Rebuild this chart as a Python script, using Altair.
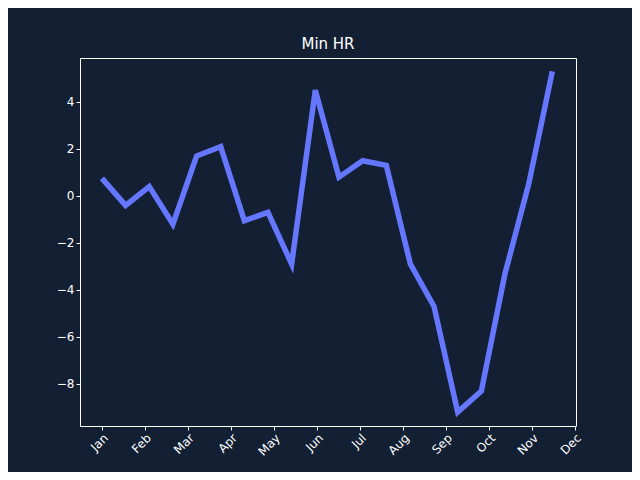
import altair as alt
import pandas as pd

months = ["Jan","Feb","Mar","Apr","May","Jun","Jul","Aug","Sep","Oct","Nov","Dec"]
xpos = [0.0, 0.55, 1.1, 1.65, 2.2, 2.76, 3.31, 3.86, 4.41, 4.96, 5.51, 6.06, 6.61, 7.17, 7.72, 8.27, 8.82, 9.37, 9.92, 10.47]
vals = [0.75, -0.4, 0.4, -1.2, 1.7, 2.1, -1.05, -0.7, -2.9, 4.5, 0.8, 1.5, 1.3, -2.9, -4.7, -9.2, -8.3, -3.3, 0.5, 5.3]

df = pd.DataFrame({"x": xpos, "y": vals})
label_expr = "[" + ",".join(f"'{m}'" for m in months) + "][datum.value]"

chart = alt.Chart(df).mark_line(color="#6677ff", strokeWidth=5.5, clip=True).encode(
    x=alt.X("x:Q", scale=alt.Scale(domain=[-0.51, 11.02], nice=False, zero=False),
            axis=alt.Axis(values=list(range(12)), labelExpr=label_expr, labelAngle=-45,
                          title=None, grid=False, domain=False)),
    y=alt.Y("y:Q", scale=alt.Scale(domain=[-9.79, 5.87], nice=False, zero=False),
            axis=alt.Axis(values=[-8,-6,-4,-2,0,2,4], title=None, grid=False, domain=False)),
).properties(
    width=496, height=368,
    title=alt.TitleParams("Min HR", color="white", fontSize=15, fontWeight="normal", font="DejaVu Sans", offset=6),
    autosize=alt.AutoSizeParams(type="none"),
    padding={"left": 72, "top": 50, "right": 56, "bottom": 46},
    background="#131f33",
).configure_view(stroke="white", strokeWidth=1).configure_axis(
    labelColor="white", tickColor="white", labelFont="DejaVu Sans", labelFontSize=12, tickSize=4
)

chart.save("out.html", embed_options={"renderer": "svg", "actions": False})
